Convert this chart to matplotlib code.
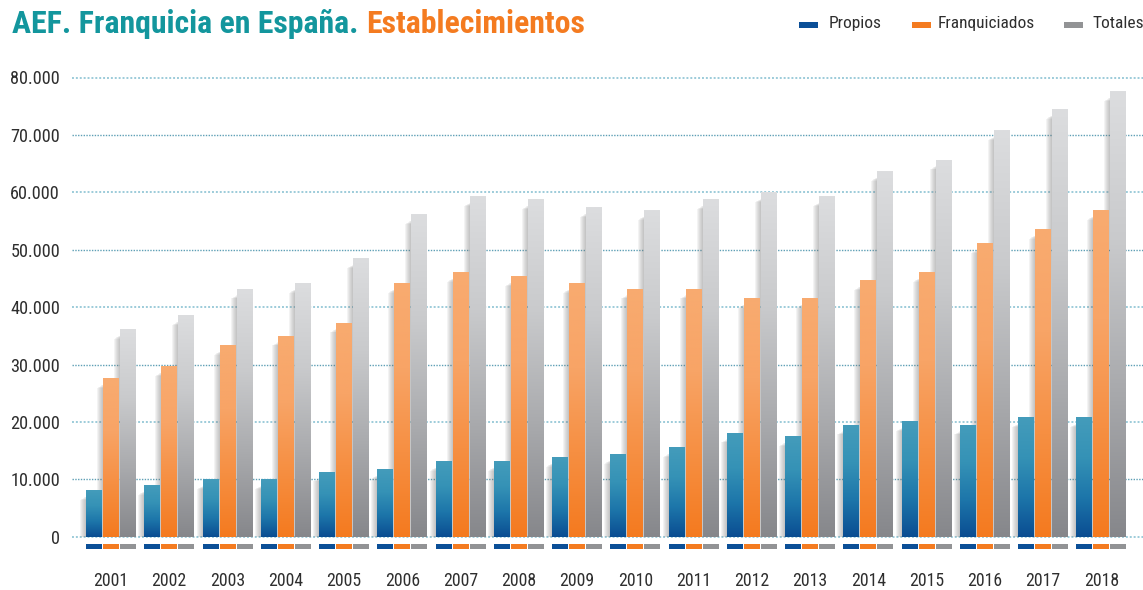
import numpy as np
import matplotlib
matplotlib.use("Agg")
import matplotlib.pyplot as plt
from matplotlib.colors import LinearSegmentedColormap
from matplotlib.patches import Rectangle
from matplotlib import font_manager as fm
from matplotlib.font_manager import FontProperties

# ---------------- data ----------------
years = ["2001", "2002", "2003", "2004", "2005", "2006", "2007", "2008", "2009",
         "2010", "2011", "2012", "2013", "2014", "2015", "2016", "2017", "2018"]
propios = [8100, 9000, 10000, 10000, 11300, 11800, 13200, 13200, 13900,
           14400, 15600, 18100, 17500, 19500, 20100, 19500, 20800, 20800]
franquiciados = [27600, 29700, 33400, 35000, 37300, 44200, 46100, 45400, 44200,
                 43200, 43200, 41600, 41600, 44700, 46100, 51100, 53600, 56900]
totales = [36200, 38600, 43200, 44200, 48500, 56200, 59300, 58800, 57400,
           56900, 58800, 60000, 59300, 63700, 65700, 70800, 74500, 77600]
series_names = ["Propios", "Franquiciados", "Totales"]
yticks = [0, 10000, 20000, 30000, 40000, 50000, 60000, 70000, 80000]
title_a = "AEF. Franquicia en España."
title_b = "Establecimientos"


# ---------------- fonts: prefer a condensed face ----------------
def _is_cond(f):
    st = f.stretch
    if isinstance(st, str):
        if "condensed" in st:
            return True
    elif isinstance(st, (int, float)) and st < 500:
        return True
    return ("Narrow" in f.name) or ("Condensed" in f.name) or \
        ("Condensed" in f.fname) or ("Narrow" in f.fname)


def _wt(f):
    w = f.weight
    if isinstance(w, str):
        w = {"bold": 700, "normal": 400, "regular": 400}.get(w, 400)
    return w


cond = [f for f in fm.fontManager.ttflist
        if _is_cond(f) and f.fname.lower().endswith((".ttf", ".otf"))
        and "italic" not in f.fname.lower() and f.style == "normal"
        and "CJK" not in f.name]
pref = ["Liberation Sans Narrow", "Roboto Condensed", "Open Sans", "Noto Sans",
        "DejaVu Sans", "Lato", "Inter"]
reg_path = bold_path = None
for p in pref:
    fams = [f for f in cond if f.name.startswith(p)]
    regs = [f for f in fams if 380 <= _wt(f) <= 500]
    bolds = [f for f in fams if _wt(f) >= 600]
    if regs and bolds:
        reg_path = sorted(regs, key=lambda f: abs(_wt(f) - 400))[0].fname
        bold_path = sorted(bolds, key=lambda f: abs(_wt(f) - 700))[0].fname
        break
if reg_path:
    FP_R = lambda s: FontProperties(fname=reg_path, size=s)
    FP_B = lambda s: FontProperties(fname=bold_path, size=s)
else:
    FP_R = lambda s: FontProperties(family="DejaVu Sans", stretch="condensed", size=s)
    FP_B = lambda s: FontProperties(family="DejaVu Sans", stretch="condensed",
                                    weight="bold", size=s)

W, H = 1143, 590
fig = plt.figure(figsize=(W / 100, H / 100), dpi=100)
fig.patch.set_facecolor("white")
renderer = fig.canvas.get_renderer()


def fit(s, target_px, maker, base=20.0):
    t = fig.text(0, 0, s, fontproperties=maker(base))
    w = t.get_window_extent(renderer=renderer).width
    t.remove()
    return base * target_px / w


size_ytick = fit("80.000", 50, FP_R)
size_year = fit("2001", 35, FP_R)
size_leg = fit("Franquiciados", 97, FP_R)
size_title = fit(title_a + " " + title_b, 573, FP_B)

ax = fig.add_axes([72 / W, (H - 560) / H, (W - 72) / W, 490 / H])

PXX = 1 / 58.25          # data units per pixel (x)
PXY = 1 / 0.005740       # data units per pixel (y)
bw = 16 * PXX
off = 17 * PXX
x = np.arange(len(years))

cmaps = [
    LinearSegmentedColormap.from_list("p", ["#0a4d92", "#1d76aa", "#3592b6", "#449cbb"]),
    LinearSegmentedColormap.from_list("f", ["#f47a1f", "#f68f42", "#f8a466", "#f8ab70"]),
    LinearSegmentedColormap.from_list("t", ["#86878b", "#a9aaad", "#c9cacc", "#dcdddf"]),
]
solid = ["#0b4f97", "#f47b20", "#929395"]
grad = np.linspace(0, 1, 256).reshape(-1, 1)

# gridlines (alternating light / darker dotted look)
for i, yv in enumerate(yticks):
    if i % 2 == 0:
        ax.axhline(yv, color="#9ccbd9", lw=1.4, ls=(0, (1, 1)), zorder=0)
    else:
        ax.axhline(yv, color="#5e9fb5", lw=1.0, ls=(0, (1, 1)), zorder=0)

for si, vals in enumerate([propios, franquiciados, totales]):
    xs = x + (si - 1) * off
    # soft shadows to the left of each bar
    for xc, v in zip(xs, vals):
        x0 = xc - bw / 2
        for k in range(1, 7):
            ax.add_patch(Rectangle((x0 - k * PXX, 0), k * PXX,
                                   max(v - (6 + 0.6 * k) * PXY, 0),
                                   facecolor="#707070", edgecolor="none",
                                   alpha=0.08, zorder=1))
    bars = ax.bar(xs, vals, width=bw, color="none", edgecolor="none", zorder=3)
    for rect, xc, v in zip(bars, xs, vals):
        x0 = xc - bw / 2
        im = ax.imshow(grad, extent=[x0, x0 + bw, 0, v], cmap=cmaps[si],
                       aspect="auto", origin="lower", zorder=3,
                       interpolation="bilinear")
        im.set_clip_path(rect)
    # small floor markers below zero
    ax.bar(xs, -(549 - 544) * PXY, bottom=-(544 - 536.7) * PXY, width=bw,
           color=solid[si], edgecolor="none", zorder=3)

ax.set_xlim((72 - 111) / 58.25, (1143 - 111) / 58.25)
ax.set_ylim(-(560 - 536.7) * PXY, (536.7 - 70) * PXY)

for s in ax.spines.values():
    s.set_visible(False)
ax.set_yticks(yticks)
ax.set_yticklabels([f"{v:,}".replace(",", ".") for v in yticks],
                   fontproperties=FP_R(size_ytick), color="#2e2e2e")
ax.set_xticks(x)
ax.set_xticklabels(years, fontproperties=FP_R(size_year), color="#2e2e2e")
ax.tick_params(axis="y", length=0, pad=8.6)
ax.tick_params(axis="x", length=0, pad=9.0)

# title
TB = (H - 33) / H
ta = fig.text(12 / W, TB, title_a, color="#13969d",
              fontproperties=FP_B(size_title), va="baseline", ha="left")
bb = ta.get_window_extent(renderer=renderer)
sp = fig.text(0, 0, title_a + " ", fontproperties=FP_B(size_title))
gap = sp.get_window_extent(renderer=renderer).width - bb.width
sp.remove()
fig.text((bb.x1 + gap) / W, TB, title_b, color="#f47b20",
         fontproperties=FP_B(size_title), va="baseline", ha="left")

# legend (manual)
leg_patch_x = [799, 912, 1064]
leg_text_x = [829, 938, 1092]
for nm, px_, tx_, c in zip(series_names, leg_patch_x, leg_text_x, solid):
    fig.patches.append(Rectangle((px_ / W, (H - 28) / H), 19 / W, 6 / H,
                                 transform=fig.transFigure, facecolor=c,
                                 edgecolor="none"))
    fig.text(tx_ / W, (H - 23.5) / H, nm, fontproperties=FP_R(size_leg),
             color="#2e2e2e", va="center", ha="left")

fig.savefig("out.png", dpi=100, facecolor="white")
